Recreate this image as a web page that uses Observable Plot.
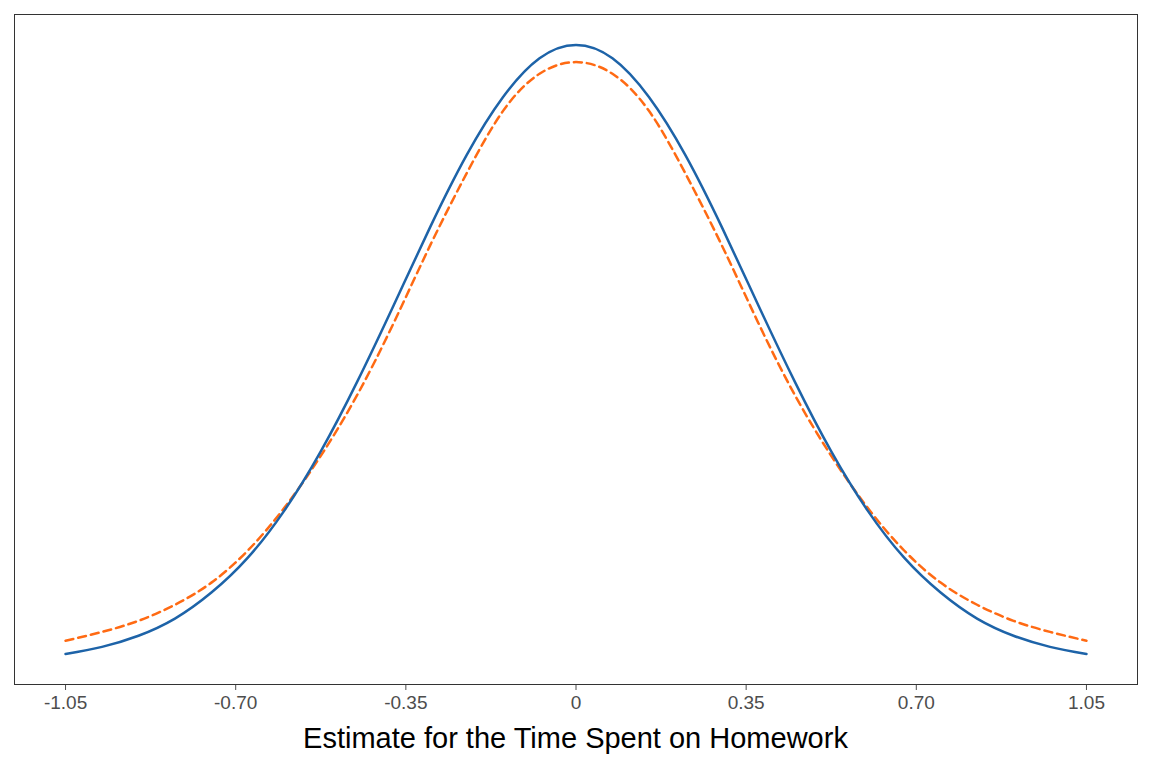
<!DOCTYPE html>
<html>
<head>
<meta charset="utf-8">
<script src="https://cdn.jsdelivr.net/npm/d3@7"></script>
<script src="https://cdn.jsdelivr.net/npm/@observablehq/plot@0.6"></script>
<style>
  body { margin: 0; padding: 0; background: #fff; }
</style>
</head>
<body>
<div id="chart"></div>
<script>
  // Estimate grid (x) and the two density curves
  const xs = [-1.05, -0.975, -0.9, -0.825, -0.75, -0.675, -0.6, -0.525, -0.45, -0.375, -0.3, -0.225, -0.15, -0.075,
              0, 0.075, 0.15, 0.225, 0.3, 0.375, 0.45, 0.525, 0.6, 0.675, 0.75, 0.825, 0.9, 0.975, 1.05]
  const normalDens = [0.014, 0.027, 0.047, 0.078, 0.125, 0.188, 0.273, 0.380, 0.506, 0.644, 0.785, 0.915, 1.020, 1.090,
                      1.114, 1.090, 1.020, 0.915, 0.785, 0.644, 0.506, 0.380, 0.273, 0.188, 0.125, 0.078, 0.047, 0.027, 0.014]
  const tDens = [0.038, 0.054, 0.074, 0.103, 0.143, 0.201, 0.278, 0.372, 0.482, 0.612, 0.752, 0.882, 0.995, 1.062,
                 1.083, 1.062, 0.995, 0.882, 0.752, 0.612, 0.482, 0.372, 0.278, 0.201, 0.143, 0.103, 0.074, 0.054, 0.038]
  const tickVals = [-1.05, -0.70, -0.35, 0, 0.35, 0.70, 1.05]

  const normalData = xs.map((x, i) => ({x, y: normalDens[i]}))
  const tData = xs.map((x, i) => ({x, y: tDens[i]}))

  const chart = Plot.plot({
    width: 1152,
    height: 768,
    marginLeft: 14,
    marginRight: 15,
    marginTop: 14,
    marginBottom: 84,
    style: {fontFamily: "Liberation Sans, Arial, sans-serif", fontSize: "19px", color: "#4d4d4d"},
    x: {domain: [-1.155, 1.155], ticks: tickVals, tickFormat: d => d === 0 ? "0" : d.toFixed(2),
        label: null, tickSize: 6, tickPadding: 5},
    y: {domain: [-0.041, 1.169], axis: null},
    marks: [
      Plot.frame({stroke: "#333", strokeWidth: 1}),
      Plot.line(tData, {x: "x", y: "y", curve: "natural", stroke: "#ff6a13", strokeWidth: 2.5, strokeDasharray: "8,5"}),
      Plot.line(normalData, {x: "x", y: "y", curve: "natural", stroke: "#1d63a8", strokeWidth: 2.5})
    ]
  })
  // axis title drawn below the ticks
  const svg = d3.select(chart)
  svg.append("text")
    .attr("x", (14 + 1137) / 2).attr("y", 748)
    .attr("text-anchor", "middle")
    .style("font-size", "29px").style("fill", "#000")
    .text("Estimate for the Time Spent on Homework")
  document.getElementById("chart").appendChild(chart)
</script>
</body>
</html>
